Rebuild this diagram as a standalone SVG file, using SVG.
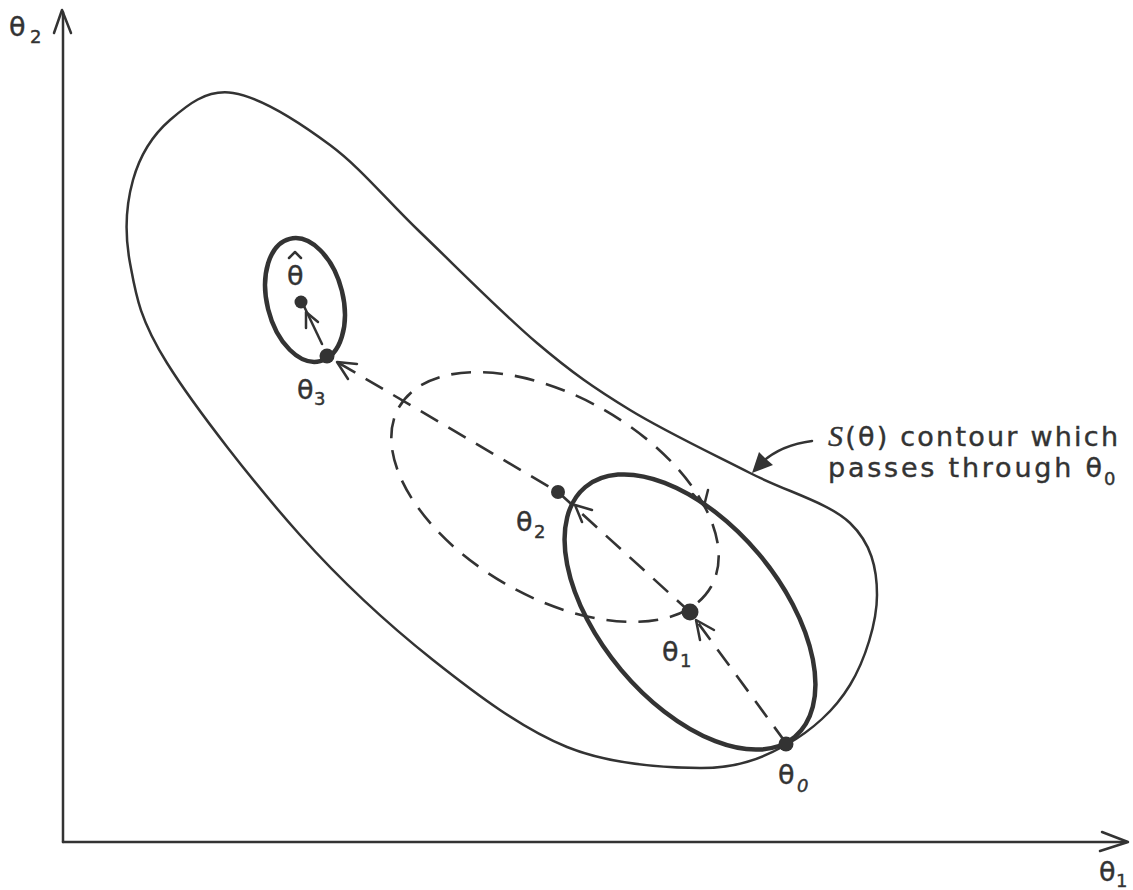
<svg xmlns="http://www.w3.org/2000/svg" width="1133" height="890" viewBox="0 0 1133 890">
<style>
.ln{fill:none;stroke:#333;stroke-width:2.5;stroke-linecap:round;stroke-linejoin:round}
.bold{fill:none;stroke:#333;stroke-width:4.5}
.dash{fill:none;stroke:#333;stroke-width:2.6;stroke-dasharray:20 12}
.barb{fill:none;stroke:#333;stroke-width:2.5;stroke-linecap:round;stroke-linejoin:round}
.dot{fill:#333}
text{font-family:"DejaVu Sans","Liberation Sans",sans-serif;fill:#333;stroke:#333;stroke-width:0.4}
.lab{font-size:27px}
.sub{font-size:18px}
.cap{font-size:27px}
</style>
<rect width="1133" height="890" fill="#fff"/>
<g id="axes">
<path class="ln" d="M63,842 L63,12"/>
<path class="barb" d="M54,33 L62,10 L71,33"/>
<path class="ln" d="M63,842 L1126,842"/>
<path class="barb" d="M1102,832 L1128,842 L1100,851"/>
<text class="lab" x="9" y="36">θ</text><text class="sub" x="30" y="43">2</text>
<text class="lab" x="1099" y="881">θ</text><text class="sub" x="1116" y="887">1</text>
</g>
<g id="outer-contour">
<path class="ln" d="M233,93 C259.7,97.2 298.8,121.8 330,145 C361.2,168.2 385.5,199 420,232 C454.5,265 502,313.3 537,343 C572,372.7 594.5,388.3 630,410 C665.5,431.7 713.3,454.2 750,473 C786.7,491.8 828.8,502.7 850,523 C871.2,543.3 877,568 877,595 C877,622 865.2,660 850,685 C834.8,710 811,731.2 786,745 C761,758.8 736.5,768.3 700,768 C663.5,767.7 611.5,765 567,747 C522.5,729 477.5,695.3 433,660 C388.5,624.7 344.3,584.5 300,535 C255.7,485.5 195.3,408.3 167,363 C138.7,317.7 135.7,293.5 130,263 C124.3,232.5 126.3,203.8 133,180 C139.7,156.2 153.3,134.5 170,120 C186.7,105.5 206.3,88.8 233,93 Z"/>
</g>
<g id="label-S">
<text class="cap" x="828" y="446" textLength="290" lengthAdjust="spacing"><tspan font-family="Liberation Serif" font-style="italic" font-size="30">S</tspan>(θ) contour which</text>
<text class="cap" x="828" y="477" textLength="274" lengthAdjust="spacing">passes through θ</text>
<text class="sub" x="1104" y="485">0</text>
<path class="ln" d="M812,441 Q780,445 760,464"/>
<polygon class="dot" points="752,473 759,452 766,459 773,465"/>
</g>
<g id="ellipse-dashed">
<ellipse class="dash" cx="555" cy="497" rx="180" ry="100" transform="rotate(30 555 497)"/>
<path class="barb" d="M693,494 L704,506 L708,490"/>
</g>
<g id="ellipse-bold">
<ellipse class="bold" cx="690" cy="612" rx="163" ry="90" transform="rotate(50 690 612)"/>
</g>
<g id="ellipse-small">
<ellipse class="bold" cx="305" cy="300" rx="38" ry="63" transform="rotate(-14 305 300)"/>
</g>
<g id="connectors">
<path class="dash" d="M786,743 L690,612 L558,492 L327,356"/>
<path class="ln" d="M322,344 L302,302"/>
<path class="barb" d="M700,640 L696,620 L714,630"/>
<path class="barb" d="M582,522 L575,505 L592,510"/>
<path class="barb" d="M348,379 L337,362 L357,364"/>
<path class="barb" d="M306,328 L306,312 L318,322"/>
</g>
<g id="theta-hat">
<circle class="dot" cx="301" cy="302" r="6.5"/>
<text class="lab" x="287" y="285">θ</text>
<path class="barb" d="M289,258 L295,252 L301,258" stroke-width="2"/>
</g>
<g id="theta3">
<circle class="dot" cx="327" cy="356" r="7.5"/>
<text class="lab" x="297" y="399">θ</text><text class="sub" x="314" y="405">3</text>
</g>
<g id="theta2">
<circle class="dot" cx="558" cy="492" r="7"/>
<text class="lab" x="516" y="531">θ</text><text class="sub" x="534" y="538">2</text>
</g>
<g id="theta1">
<circle class="dot" cx="690" cy="612" r="8.5"/>
<text class="lab" x="662" y="661">θ</text><text class="sub" x="680" y="667">1</text>
</g>
<g id="theta0">
<circle class="dot" cx="786" cy="744" r="7.5"/>
<text class="lab" x="778" y="784">θ</text><text class="sub" x="797" y="792" font-style="italic">0</text>
</g>
</svg>
